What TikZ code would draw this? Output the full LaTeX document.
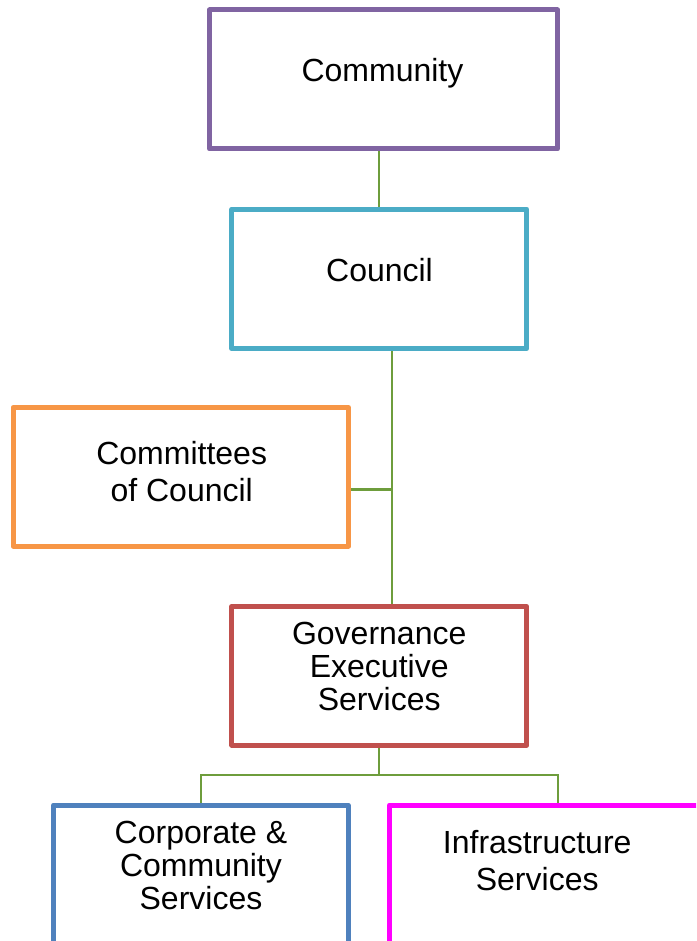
\documentclass[tikz,border=0pt]{standalone}
\usepackage{fontspec}
\setmainfont{Liberation Sans}
\definecolor{cpurple}{HTML}{8064A2}
\definecolor{cteal}{HTML}{4BACC6}
\definecolor{corange}{HTML}{F79646}
\definecolor{cred}{HTML}{C0504D}
\definecolor{cblue}{HTML}{4F81BD}
\definecolor{cmagenta}{HTML}{FF00FF}
\definecolor{cgreen}{HTML}{6E9D3C}
\newcommand{\mlines}[1]{\begin{tabular}[t]{@{}c@{}}#1\end{tabular}}
\begin{document}
\begin{tikzpicture}[x=1pt,y=-1pt,
  box/.style={draw=#1, line width=5pt, line join=round, fill=white, rectangle, inner sep=0pt},
  lbl/.style={anchor=base, inner sep=0pt},
  conn/.style={draw=cgreen, line width=2.2pt}]
\useasboundingbox (0,0) rectangle (696,941);
\clip (0,0) rectangle (696,941);
% boxes
\node[box=cpurple, minimum width=348pt, minimum height=139pt] (community) at (383.5,79.5) {};
\node[box=cteal, minimum width=295pt, minimum height=139.3pt] (council) at (379.3,278.85) {};
\node[box=corange, minimum width=335.5pt, minimum height=138.5pt] (committees) at (180.75,476.75) {};
\node[box=cred, minimum width=295pt, minimum height=138.7pt] (governance) at (379.3,675.85) {};
\node[box=cblue, minimum width=294.5pt, minimum height=139pt] (corporate) at (200.75,874.5) {};
\node[box=cmagenta, minimum width=336.8pt, minimum height=139pt] (infra) at (557.7,874.5) {};
% labels
\node[lbl, font={\fontsize{32}{37}\selectfont}] (tcommunity) at (382.5,81.7) {Community};
\node[lbl, font={\fontsize{32}{37}\selectfont}] (tcouncil) at (379.5,281) {Council};
\node[lbl, font={\fontsize{32}{37}\selectfont}] (tcommittees) at (181.7,464) {\mlines{Committees\\of Council}};
\node[lbl, font={\fontsize{32}{33.3}\selectfont}] (tgovernance) at (379.2,644.3) {\mlines{Governance\\Executive\\Services}};
\node[lbl, font={\fontsize{32}{32.7}\selectfont}] (tcorporate) at (201,843) {\mlines{Corporate \&\\Community\\Services}};
\node[lbl, font={\fontsize{32}{37.7}\selectfont}] (tinfra) at (537.2,853) {\mlines{Infrastructure\\Services}};
% connectors
\coordinate (trunktop) at ([xshift=12.7pt]council.south);
\coordinate (bus) at (379.3,775.3);
\draw[conn] (council.north) -- (council.north |- community.south);
\draw[conn] (trunktop) -- (trunktop |- governance.north);
\draw[conn] ([yshift=-12.75pt]committees.east) -- ([yshift=-12.75pt]committees.east -| trunktop);
\draw[conn] (governance.south) -- (bus);
\draw[conn] (corporate.north) -- (corporate.north |- bus) -- (infra.north |- bus) -- (infra.north);
\end{tikzpicture}
\end{document}
